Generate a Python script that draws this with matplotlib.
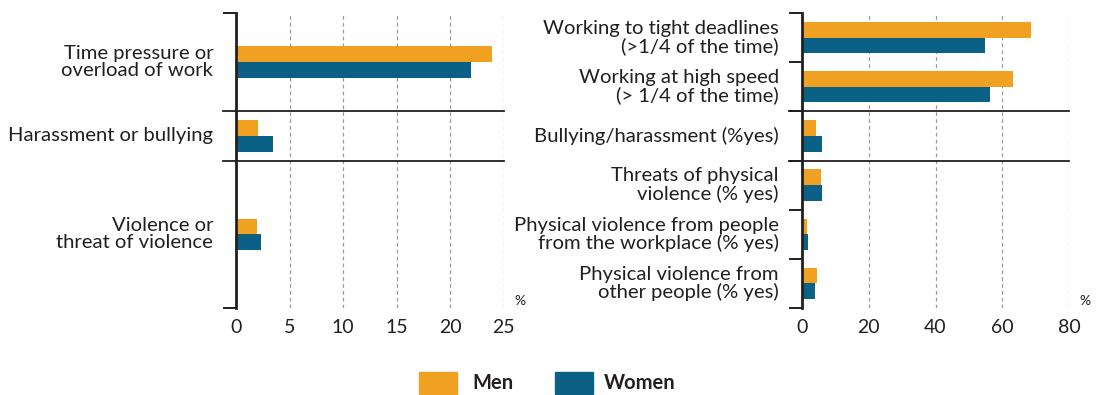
#!/usr/bin/env python3
"""
Psychosocial risks at work: men vs women, two survey panels side by side.
"""

import matplotlib

matplotlib.use("Agg")
import matplotlib.pyplot as plt
import matplotlib.patches as mpatches

# Left panel: share of workers reporting each risk (%)
left_labels = [
    "Time pressure or\noverload of work",
    "Harassment or bullying",
    "Violence or\nthreat of violence",
]
left_men = [23.9, 2.1, 2.0]
left_women = [21.9, 3.5, 2.3]
left_ticks = [0, 5, 10, 15, 20, 25]

# Right panel: working conditions survey (%)
right_labels = [
    "Working to tight deadlines\n(>1/4 of the time)",
    "Working at high speed\n(> 1/4 of the time)",
    "Bullying/harassment (%yes)",
    "Threats of physical\nviolence (% yes)",
    "Physical violence from people\nfrom the workplace (% yes)",
    "Physical violence from\nother people (% yes)",
]
right_men = [68.5, 63.2, 4.3, 5.7, 1.6, 4.6]
right_women = [54.8, 56.2, 6.0, 6.0, 1.9, 4.0]
right_ticks = [0, 20, 40, 60, 80]

MEN = "#F0A122"
WOMEN = "#0B6185"
INK = "#231F20"
GRID = "#9A9A9A"
FONT = ["Lato", "DejaVu Sans"]

plt.rcParams["font.family"] = FONT
plt.rcParams["text.color"] = INK

# left categories span 2, 1 and 3 rows of the 6-row frame
left_spans = [2, 1, 3]
BAR_H = 0.32
TICK_PX = 13 * 0.72  # tick length in points


def panel(ax, labels, centers, men, women, ticks, row_ticks):
    ax.barh([c - BAR_H / 2 for c in centers], men, height=BAR_H, color=MEN, zorder=3)
    ax.barh([c + BAR_H / 2 for c in centers], women, height=BAR_H, color=WOMEN, zorder=3)
    ax.set_ylim(6, 0)
    ax.set_xlim(0, ticks[-1])

    for t in ticks[1:]:
        ax.axvline(t, color=GRID, lw=0.9, ls=(0, (3, 2.5)), zorder=1)

    for s in ["top", "right", "bottom"]:
        ax.spines[s].set_visible(False)
    ax.spines["left"].set_color(INK)
    ax.spines["left"].set_linewidth(2.0)
    ax.spines["left"].set_zorder(4)

    ax.set_yticks(row_ticks)
    ax.set_yticklabels([])
    ax.tick_params(axis="y", length=TICK_PX, width=1.4, color=INK)

    ax.set_xticks(ticks)
    ax.set_xticklabels([str(t) for t in ticks], fontsize=14, color=INK)
    ax.tick_params(axis="x", length=0, pad=8)

    # group separators run through the frame and past the spine
    x0 = -TICK_PX / 0.72 / (ax.get_position().width * fig.get_figwidth() * fig.dpi)
    for y in (2, 3):
        ax.plot([x0, 1], [y, y], color=INK, lw=1.3, transform=ax.get_yaxis_transform(),
                clip_on=False, zorder=4)

    for lab, c in zip(labels, centers):
        ax.text(-0.085, c, lab, transform=ax.get_yaxis_transform(),
                ha="right", va="center", fontsize=14.6, linespacing=1.02, color=INK)

    ax.text(1.06, 5.85, "%", transform=ax.get_yaxis_transform(), ha="center", va="center",
            fontsize=10, color=INK)


fig = plt.figure(figsize=(11.05, 3.95), dpi=100)
ax_l = fig.add_axes([236 / 1105, 1 - 308 / 395, 267.7 / 1105, 295 / 395])
ax_r = fig.add_axes([801.7 / 1105, 1 - 308 / 395, 267.6 / 1105, 295 / 395])

left_centers = []
start = 0
for span in left_spans:
    left_centers.append(start + span / 2)
    start += span
right_centers = [i + 0.5 for i in range(len(right_labels))]

panel(ax_l, left_labels, left_centers, left_men, left_women, left_ticks, [0, 6])
panel(ax_r, right_labels, right_centers, right_men, right_women, right_ticks, list(range(7)))

# legend
fig.patches.append(mpatches.Rectangle((419 / 1105, 1 - 394 / 395), 38 / 1105, 22 / 395,
                                      transform=fig.transFigure, color=MEN))
fig.patches.append(mpatches.Rectangle((555 / 1105, 1 - 394 / 395), 38 / 1105, 22 / 395,
                                      transform=fig.transFigure, color=WOMEN))
fig.text(472 / 1105, 1 - 383 / 395, "Men", ha="left", va="center", fontsize=14.5,
         fontweight="bold", color=INK)
fig.text(604 / 1105, 1 - 383 / 395, "Women", ha="left", va="center", fontsize=14.5,
         fontweight="bold", color=INK)

fig.savefig("out.png", dpi=100)
